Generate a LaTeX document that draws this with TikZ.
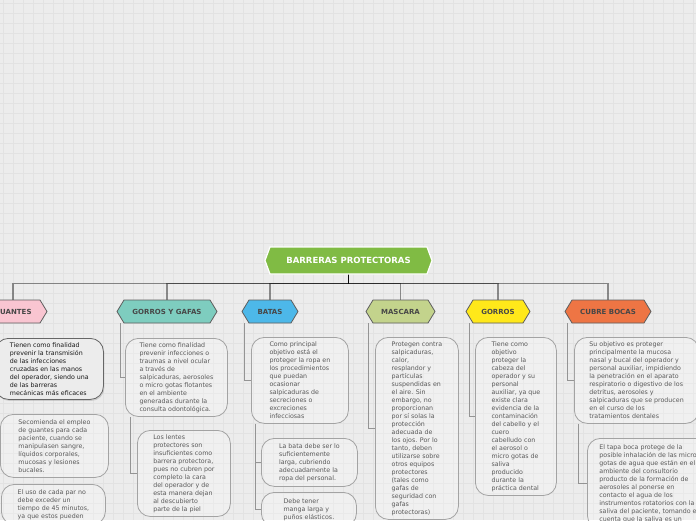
\documentclass[tikz,border=0pt]{standalone}
\usepackage{fontspec}
\setmainfont{DejaVu Sans}
\usetikzlibrary{shadows}

\definecolor{fondo}{HTML}{ECECEC}
\definecolor{rejilla}{HTML}{E2E2E2}
\definecolor{verde}{HTML}{80BB44}
\definecolor{rosa}{HTML}{F9C5D1}
\definecolor{turquesa}{HTML}{7ECDBF}
\definecolor{azul}{HTML}{4DB8E9}
\definecolor{oliva}{HTML}{C3D38C}
\definecolor{amarillo}{HTML}{FFE81A}
\definecolor{naranja}{HTML}{EE7544}
\definecolor{bordehex}{HTML}{5E5E5E}
\definecolor{etiqueta}{HTML}{474747}
\definecolor{bordenota}{HTML}{A3A3A3}
\definecolor{textonota}{HTML}{5A5A5A}

% 六边形节点: 名称, x, y, 半宽, 半高, 样式, 文字, 尖角深度
\newcommand{\hexnodo}[8]{%
  \filldraw[#6] (#2-#4,#3) -- (#2-#4+#8,#3-#5) -- (#2+#4-#8,#3-#5) -- (#2+#4,#3)
    -- (#2+#4-#8,#3+#5) -- (#2-#4+#8,#3+#5) -- cycle;
  \node[#6, draw=none, fill=none, inner sep=0pt, minimum width=2*#4pt, minimum height=2*#5pt] (#1) at (#2,#3) {#7};}

\begin{document}
\begin{tikzpicture}[x=1pt, y=-1pt,
    raizst/.style={fill=verde, draw=white, line width=1.2pt, text=white, font=\fontsize{8.5}{10}\selectfont\bfseries},
    hijo/.style={draw=bordehex, line width=0.8pt, text=etiqueta, font=\fontsize{7}{8}\selectfont\bfseries},
    rama/.style={draw=black, draw opacity=0.42, line width=1.2pt},
    enlace/.style={draw=black!42, line width=0.9pt},
    nota/.style={anchor=north west, draw=bordenota, line width=0.8pt, rounded corners=13pt,
      fill=white, fill opacity=0.25, text opacity=1, align=left, text=textonota,
      font=\fontsize{6.3}{8}\selectfont, inner xsep=6pt, inner ysep=4pt},
    notaoscura/.style={draw=black!60, text=black!90, fill=fondo, fill opacity=1,
      drop shadow={shadow xshift=1pt, shadow yshift=-1.5pt, opacity=0.3}}]
  \useasboundingbox (0,0) rectangle (696,520);
  \clip (0,0) rectangle (696,520);

  % 1. 背景网格
  \fill[fondo] (0,0) rectangle (696,520);
  \foreach \i in {0,...,69} \draw[rejilla, line width=0.6pt] (3+10*\i,0) -- (3+10*\i,520);
  \foreach \j in {0,...,51} \draw[rejilla, line width=0.6pt] (0,3+10*\j) -- (696,3+10*\j);

  % 2. 分支连线
  \coordinate (raizpie) at (348.5,274);
  \foreach \h/\cx in {guantes/13, gorrosgafas/167, batas/270, mascara/400.5, gorros/498, cubrebocas/608}
    \draw[rama] (raizpie) -- ++(0,9.5) -| (\cx,300);

  % 3. 六边形节点
  \hexnodo{raiz}{348.5}{260.5}{83.5}{13.5}{raizst}{BARRERAS PROTECTORAS}{5}
  \hexnodo{guantes}{13}{311.5}{34}{11.5}{hijo, fill=rosa}{GUANTES}{7}
  \hexnodo{gorrosgafas}{167}{311.5}{50}{11.5}{hijo, fill=turquesa}{GORROS Y GAFAS}{7}
  \hexnodo{batas}{270}{311.5}{28}{11.5}{hijo, fill=azul}{BATAS}{7}
  \hexnodo{mascara}{400.5}{311.5}{34.5}{11.5}{hijo, fill=oliva}{MASCARA}{7}
  \hexnodo{gorros}{498}{311.5}{32}{11.5}{hijo, fill=amarillo}{GORROS}{7}
  \hexnodo{cubrebocas}{608}{311.5}{43}{11.5}{hijo, fill=naranja}{CUBRE BOCAS}{7}

  % 4. 说明文字框
  \node[nota, notaoscura, minimum width=108pt, minimum height=61pt] (g1) at (-5,338)
    {Tienen como finalidad\\prevenir la transmisión\\de las infecciones\\cruzadas en las manos\\del operador, siendo una\\de las barreras\\mecánicas más eficaces};
  \node[nota, minimum width=108pt, minimum height=63pt] (g2) at (0,414)
    {Secomienda el empleo\\de guantes para cada\\paciente, cuando se\\manipulasen sangre,\\líquidos corporales,\\mucosas y lesiones\\bucales.};
  \node[nota, minimum width=104pt, inner ysep=5pt] (g3) at (1,484)
    {El uso de cada par no\\debe exceder un\\tiempo de 45 minutos,\\ya que estos pueden};

  \node[nota, minimum width=102pt, minimum height=78pt] (gg1) at (125,338)
    {Tiene como finalidad\\prevenir infecciones o\\traumas a nivel ocular\\a través de\\salpicaduras, aerosoles\\o micro gotas flotantes\\en el ambiente\\generadas durante la\\consulta odontológica.};
  \node[nota, minimum width=93pt, minimum height=85pt] (gg2) at (137,430)
    {Los lentes\\protectores son\\insuficientes como\\barrera protectora,\\pues no cubren por\\completo la cara\\del operador y de\\esta manera dejan\\al descubierto\\parte de la piel};

  \node[nota, minimum width=97pt, minimum height=86pt] (b1) at (251,337)
    {Como principal\\objetivo está el\\proteger la ropa en\\los procedimientos\\que puedan\\ocasionar\\salpicaduras de\\secreciones o\\excreciones\\infecciosas};
  \node[nota, minimum width=96pt, minimum height=48pt] (b2) at (261,438)
    {La bata debe ser lo\\suficientemente\\larga, cubriendo\\adecuadamente la\\ropa del personal.};
  \node[nota, minimum width=95pt, inner ysep=6pt] (b3) at (261,492)
    {Debe tener\\manga larga y\\puños elásticos.};

  \node[nota, minimum width=83pt, minimum height=182pt] (m1) at (375,337)
    {Protegen contra\\salpicaduras,\\calor,\\resplandor y\\partículas\\suspendidas en\\el aire. Sin\\embargo, no\\proporcionan\\por sí solas la\\protección\\adecuada de\\los ojos. Por lo\\tanto, deben\\utilizarse sobre\\otros equipos\\protectores\\(tales como\\gafas de\\seguridad con\\gafas\\protectoras)};

  \node[nota, minimum width=81pt, minimum height=158pt] (go1) at (475,337)
    {Tiene como\\objetivo\\proteger la\\cabeza del\\operador y su\\personal\\auxiliar, ya que\\existe clara\\evidencia de la\\contaminación\\del cabello y el\\cuero\\cabelludo con\\el aerosol o\\micro gotas de\\saliva\\producido\\durante la\\práctica dental};

  \node[nota, inner xsep=15pt, minimum height=86pt] (cb1) at (574,337)
    {Su objetivo es proteger\\principalmente la mucosa\\nasal y bucal del operador y\\personal auxiliar, impidiendo\\la penetración en el aparato\\respiratorio o digestivo de los\\detritus, aerosoles y\\salpicaduras que se producen\\en el curso de los\\tratamientos dentales};
  \node[nota, inner xsep=12pt, inner ysep=6pt] (cb2) at (587,438)
    {El tapa boca protege de la\\posible inhalación de las micro\\gotas de agua que están en el\\ambiente del consultorio\\producto de la formación de\\aerosoles al ponerse en\\contacto el agua de los\\instrumentos rotatorios con la\\saliva del paciente, tomando en\\cuenta que la saliva es un};

  % 5. 子连线
  \draw[enlace] ([xshift=4pt]gorrosgafas.south west) |- (gg1.west);
  \draw[enlace] ([xshift=5pt]gg1.south west) |- (gg2.west);
  \draw[enlace] ([xshift=3pt]batas.south west) |- (b1.west);
  \draw[enlace] ([xshift=4pt]b1.south west) |- (b2.west);
  \draw[enlace] ([xshift=4pt]b1.south west) |- (b3.west);
  \draw[enlace] ([xshift=3pt]mascara.south west) |- (m1.west);
  \draw[enlace] ([xshift=4pt]gorros.south west) |- (go1.west);
  \draw[enlace] ([xshift=3pt]cubrebocas.south west) |- (cb1.west);
  \draw[enlace] ([xshift=4pt]cb1.south west) |- (cb2.west);
\end{tikzpicture}
\end{document}
